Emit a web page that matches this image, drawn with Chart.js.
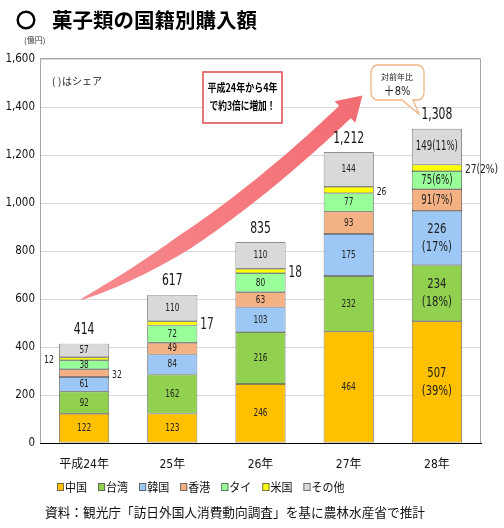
<!DOCTYPE html>
<html><head><meta charset="utf-8">
<script src="https://cdn.jsdelivr.net/npm/chart.js@4.4.1/dist/chart.umd.min.js"></script>
<style>html,body{margin:0;padding:0;background:#fff;}#wrap{width:504px;height:528px;position:relative;}</style>
</head><body><div id="wrap"><canvas id="c" width="504" height="528"></canvas></div>
<script>
const categories = ['平成24年','25年','26年','27年','28年'];
const seriesNames = ['中国','台湾','韓国','香港','タイ','米国','その他'];
const china    = [122,123,246,464,507];
const taiwan   = [92,162,216,232,234];
const korea    = [61,84,103,175,226];
const hongkong = [32,49,63,93,91];
const thai     = [38,72,80,77,75];
const usa      = [12,17,18,26,27];
const other    = [57,110,110,144,149];
const totals   = [414,617,835,1212,1308];
const shares28 = [39,18,17,7,6,2,11];
const yMax = 1600, yStep = 200;

const colors = ['#FFC000','#92D050','#9DC8F5','#F4B183','#99FF99','#FFFF00','#D9D9D9'];
const seriesData = [china,taiwan,korea,hongkong,thai,usa,other];
const NUM = "'Liberation Sans Narrow','DejaVu Sans Condensed','Noto Sans CJK JP',sans-serif";
const JP = "'Noto Sans CJK JP',sans-serif";

function fitText(ctx, text, x, y, maxW){
  const w = ctx.measureText(text).width;
  ctx.save();
  ctx.translate(x, y);
  if (w > maxW) ctx.scale(maxW / w, 1);
  ctx.fillText(text, 0, 0);
  ctx.restore();
}
function narrow(ctx, text, x, y, sx){
  ctx.save(); ctx.translate(x,y); ctx.scale(sx,1); ctx.fillText(text,0,0); ctx.restore();
}

function drawArrow(ctx){
  const P0={x:80,y:300}, C={x:205,y:245}, P2={x:345,y:112};
  const N=60, left=[], right=[];
  for(let k=0;k<=N;k++){
    const t=k/N, mt=1-t;
    const x=mt*mt*P0.x+2*mt*t*C.x+t*t*P2.x;
    const y=mt*mt*P0.y+2*mt*t*C.y+t*t*P2.y;
    const dx=2*mt*(C.x-P0.x)+2*t*(P2.x-C.x);
    const dy=2*mt*(C.y-P0.y)+2*t*(P2.y-C.y);
    const L=Math.hypot(dx,dy), nx=-dy/L, ny=dx/L;
    const hw=8.5*Math.min(1,Math.pow(t/0.4,0.7));
    left.push([x+nx*hw,y+ny*hw]); right.push([x-nx*hw,y-ny*hw]);
  }
  const dx=P2.x-C.x, dy=P2.y-C.y, L=Math.hypot(dx,dy), ux=dx/L, uy=dy/L, nx=-uy, ny=ux;
  const g=ctx.createLinearGradient(P0.x,P0.y,P2.x,P2.y);
  g.addColorStop(0,'rgb(246,138,142)');
  g.addColorStop(1,'rgb(243,110,116)');
  ctx.save();
  ctx.fillStyle=g;
  ctx.beginPath();
  ctx.moveTo(left[0][0],left[0][1]);
  left.forEach(p=>ctx.lineTo(p[0],p[1]));
  ctx.lineTo(P2.x+nx*15,P2.y+ny*15);
  ctx.lineTo(P2.x+ux*24,P2.y+uy*24);
  ctx.lineTo(P2.x-nx*15,P2.y-ny*15);
  for(let k=right.length-1;k>=0;k--) ctx.lineTo(right[k][0],right[k][1]);
  ctx.closePath();
  ctx.fill();
  ctx.restore();
}

const decoPlugin = {
  id:'deco',
  beforeDatasetsDraw(chart){
    const ctx=chart.ctx, a=chart.chartArea;
    ctx.save();
    ctx.strokeStyle='#a6a6a6'; ctx.lineWidth=1;
    ctx.beginPath();
    ctx.moveTo(a.left+0.5,a.bottom); ctx.lineTo(a.left+0.5,a.top-0.5);
    ctx.lineTo(a.right-0.5,a.top-0.5); ctx.lineTo(a.right-0.5,a.bottom);
    ctx.stroke();
    ctx.restore();
  },
  afterDatasetsDraw(chart){
    const ctx=chart.ctx;
    drawArrow(ctx);
    ctx.save();
    ctx.fillStyle='#222';
    chart.data.datasets.forEach((ds,i)=>{
      const meta=chart.getDatasetMeta(i);
      meta.data.forEach((el,j)=>{
        const v=ds.data[j];
        const cy=(el.y+el.base)/2;
        const half=el.width/2;
        const last=j===categories.length-1;
        const isUS=i===5, outside=isUS||(i===3&&j===0);
        if(outside){
          let txt=String(v);
          if(last) txt=v+'('+shares28[i]+'%)';
          const size=(j===1||j===2)?15:(last?13:11);
          ctx.font=size+'px '+NUM;
          ctx.textBaseline='middle';
          if(isUS&&j===0){ctx.textAlign='right'; narrow(ctx,txt,el.x-half-5,cy+1,0.8);}
          else {ctx.textAlign='left'; narrow(ctx,txt,el.x+half+3,cy+2,0.78);}
          return;
        }
        ctx.textAlign='center'; ctx.textBaseline='middle';
        if(last){
          ctx.font='14px '+NUM;
          if(i<=2){
            narrow(ctx,String(v),el.x,cy-9,0.8);
            narrow(ctx,'('+shares28[i]+'%)',el.x,cy+9,0.8);
          } else {
            narrow(ctx,v+'('+shares28[i]+'%)',el.x,cy,0.68);
          }
        } else {
          ctx.font='11px '+NUM;
          narrow(ctx,String(v),el.x,cy,0.75);
        }
      });
    });
    // totals
    const topMeta=chart.getDatasetMeta(chart.data.datasets.length-1);
    ctx.font='16px '+NUM; ctx.textAlign='center'; ctx.textBaseline='middle'; ctx.fillStyle='#111';
    topMeta.data.forEach((el,j)=>{
      narrow(ctx,totals[j].toLocaleString('en-US'),el.x,el.y-14,0.75);
    });
    ctx.restore();
  },
  afterDraw(chart){
    const ctx=chart.ctx;
    ctx.save();
    // title
    ctx.fillStyle='#000';
    ctx.textBaseline='middle'; ctx.textAlign='left';
    ctx.lineWidth=2.4; ctx.strokeStyle='#000';
    ctx.beginPath(); ctx.arc(26,20,8.3,0,Math.PI*2); ctx.stroke();
    ctx.font='bold 20.5px '+JP;
    ctx.fillText('菓子類の国籍別購入額',52,20);
    // unit
    ctx.font='8px '+JP; ctx.fillStyle='#333';
    ctx.fillText('(億円)',24,40);
    // share note
    ctx.font='10px '+JP; ctx.fillStyle='#222';
    ctx.fillText('(',52,81); ctx.fillText(')',58,81);
    ctx.fillText('はシェア',62,81);
    // red callout
    ctx.fillStyle='#fff'; ctx.strokeStyle='#e04848'; ctx.lineWidth=1.5;
    ctx.fillRect(203,72,79,51); ctx.strokeRect(203,72,79,51);
    ctx.fillStyle='#000'; ctx.font='bold 11px '+JP; ctx.textAlign='center';
    fitText(ctx,'平成24年から4年',242.5,88,70);
    fitText(ctx,'で約3倍に増加！',242.5,106,66);
    // bubble
    ctx.beginPath();
    const bx=371,by=65,bw=53,bh=35,r=7;
    ctx.moveTo(bx+r,by);
    ctx.lineTo(bx+bw-r,by); ctx.arcTo(bx+bw,by,bx+bw,by+r,r);
    ctx.lineTo(bx+bw,by+bh-r); ctx.arcTo(bx+bw,by+bh,bx+bw-r,by+bh,r);
    ctx.lineTo(413,by+bh); ctx.lineTo(419,114); ctx.lineTo(402,by+bh);
    ctx.lineTo(bx+r,by+bh); ctx.arcTo(bx,by+bh,bx,by+bh-r,r);
    ctx.lineTo(bx,by+r); ctx.arcTo(bx,by,bx+r,by,r);
    ctx.closePath();
    ctx.fillStyle='#fff'; ctx.fill();
    ctx.strokeStyle='#F0B483'; ctx.lineWidth=1.3; ctx.stroke();
    ctx.fillStyle='#222'; ctx.textAlign='center';
    ctx.font='8px '+JP; ctx.fillText('対前年比',397,77);
    ctx.font='13px '+NUM; narrow(ctx,'＋8%',397,92,0.85);
    // legend
    let x=57; const ly=487;
    ctx.textAlign='left'; ctx.textBaseline='middle';
    chart.data.datasets.forEach(ds=>{
      ctx.fillStyle=ds.backgroundColor; ctx.fillRect(x,ly-4,7,8);
      ctx.strokeStyle='#555'; ctx.lineWidth=0.8; ctx.strokeRect(x+0.4,ly-3.6,6.2,7.2);
      ctx.fillStyle='#111'; ctx.font='12px '+JP;
      const w=ctx.measureText(ds.label).width*0.92;
      narrow(ctx,ds.label,x+8,ly,0.92);
      x+=8+w+11;
    });
    // source
    ctx.font='13px '+JP; ctx.fillStyle='#111';
    const src='資料：観光庁「訪日外国人消費動向調査」を基に農林水産省で推計';
    const sw=ctx.measureText(src).width;
    ctx.save(); ctx.translate(45,512); ctx.scale(380/sw,1); ctx.fillText(src,0,0); ctx.restore();
    ctx.restore();
  }
};

new Chart(document.getElementById('c'),{
  type:'bar',
  data:{
    labels:categories,
    datasets:seriesNames.map((n,i)=>({
      label:n, data:seriesData[i], backgroundColor:colors[i],
      borderColor:'#3a3a3a', borderWidth:0.7, borderSkipped:false,
      barPercentage:0.567, categoryPercentage:1
    }))
  },
  options:{
    responsive:false, animation:false,
    layout:{padding:{left:0,top:59,right:23,bottom:55}},
    plugins:{legend:{display:false},tooltip:{enabled:false}},
    scales:{
      x:{stacked:true,
        grid:{display:false,drawTicks:false},
        border:{color:'#000',width:1},
        ticks:{padding:15,color:'#111',font:{family:NUM,size:12}},
        afterFit(s){s.height=30;}
      },
      y:{stacked:true,min:0,max:yMax,
        grid:{color:'#dadada',drawTicks:false},
        border:{display:false},
        ticks:{stepSize:yStep,padding:5,color:'#111',font:{family:NUM,size:11.5}},
        afterFit(s){s.width=40;}
      }
    }
  },
  plugins:[decoPlugin]
});
</script></body></html>
